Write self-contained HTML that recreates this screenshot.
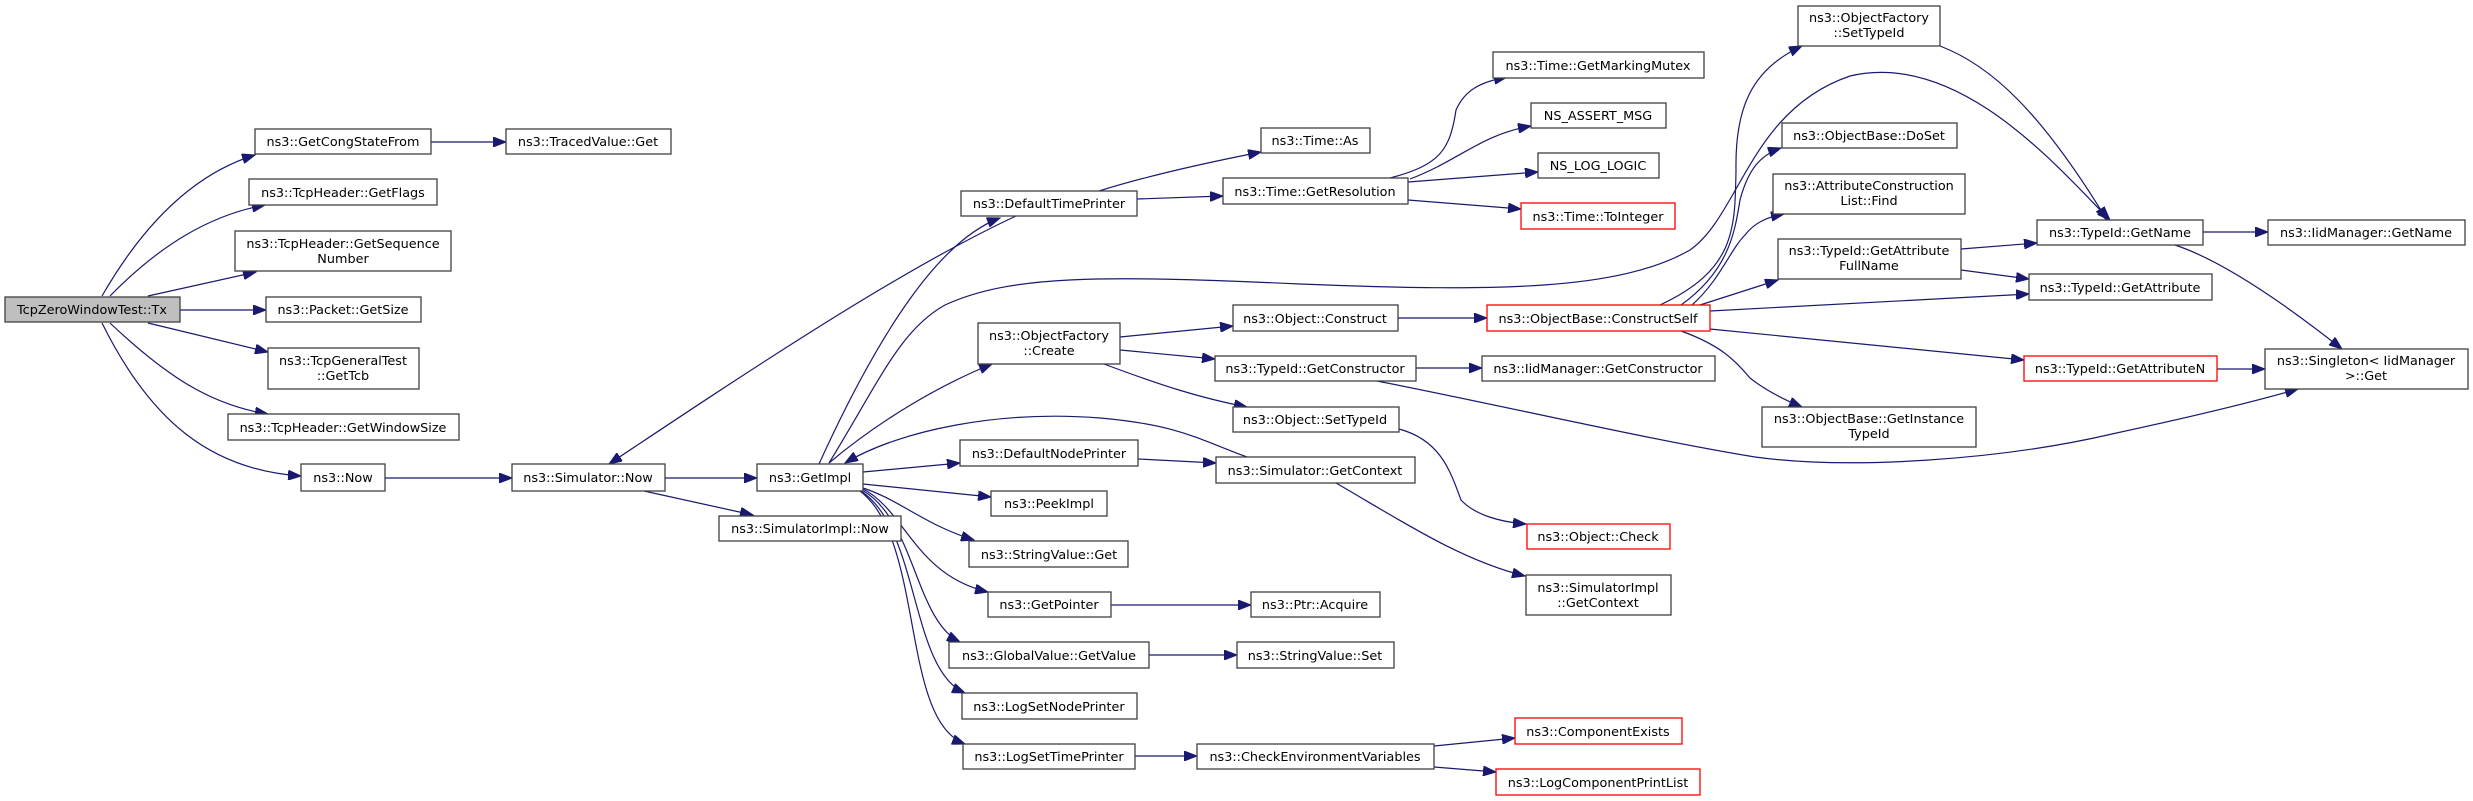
<!DOCTYPE html>
<html><head><meta charset="utf-8">
<style>
html,body{margin:0;padding:0;background:#fff;}
svg{display:block;}
text{font-family:"DejaVu Sans","Liberation Sans",sans-serif;font-size:12.8px;fill:#000;}
rect{fill:#fff;stroke:#404040;stroke-width:1.3;}
rect.r{stroke:#ff0000;}
rect.g{fill:#bfbfbf;}
path{fill:none;stroke:#191970;stroke-width:1.2;}
</style></head><body>
<svg width="2473" height="801" viewBox="0 0 2473 801" xmlns="http://www.w3.org/2000/svg">
<defs>
<marker id="a" markerWidth="14" markerHeight="10" refX="13" refY="5" orient="auto" markerUnits="userSpaceOnUse">
<path d="M0,0 L13,5 L0,10 Z" style="fill:#191970;stroke:#191970;stroke-width:1"/>
</marker>
</defs>
<g marker-end="url(#a)">
<path d="M102,296 C140,230 190,175 255,155"/>
<path d="M110,296 C160,245 210,215 265,205"/>
<path d="M148,296 L256,272"/>
<path d="M180,310 L266,310"/>
<path d="M148,323 L268,352"/>
<path d="M110,323 C165,375 210,405 268,414"/>
<path d="M102,323 C150,420 210,470 301,476"/>
<path d="M431,142 L506,142"/>
<path d="M385,478 L512,478"/>
<path d="M665,478 L757,478"/>
<path d="M644,491 L753,515"/>
<path d="M1016,216 C900,270 750,370 609,464"/>
<path d="M819,464 C880,330 940,240 1000,218"/>
<path d="M829,463 C880,380 900,330 945,305 C1010,275 1100,275 1300,284 C1500,292 1620,290 1690,250 C1740,215 1750,110 1850,76 C1960,50 2060,170 2110,220"/>
<path d="M829,463 C880,420 940,385 992,364"/>
<path d="M1247,457 C1200,440 1180,425 1100,418 C1000,410 900,430 845,463"/>
<path d="M863,472 L960,463"/>
<path d="M863,484 L991,497"/>
<path d="M863,488 C900,500 925,525 974,540"/>
<path d="M863,489 C905,510 915,575 988,592"/>
<path d="M862,490 C915,520 915,620 960,642"/>
<path d="M861,491 C920,530 910,670 965,693"/>
<path d="M860,491 C925,540 900,720 965,744"/>
<path d="M1099,191 C1150,175 1210,162 1261,152"/>
<path d="M1137,199 L1223,196"/>
<path d="M1390,178 C1440,165 1450,150 1456,110 C1465,90 1480,82 1507,77"/>
<path d="M1410,179 C1460,160 1480,135 1531,126"/>
<path d="M1408,182 L1538,172"/>
<path d="M1408,200 L1521,209"/>
<path d="M1120,337 L1233,326"/>
<path d="M1120,350 L1215,359"/>
<path d="M1104,364 C1160,385 1200,398 1247,407"/>
<path d="M1398,318 L1487,318"/>
<path d="M1416,368 L1482,368"/>
<path d="M1377,381 C1500,405 1650,440 1755,457 C1850,470 2000,460 2112,434 C2200,415 2260,400 2298,389"/>
<path d="M1138,459 L1216,463"/>
<path d="M1399,429 C1440,440 1450,470 1461,500 C1475,515 1500,522 1526,524"/>
<path d="M1336,483 C1400,520 1460,560 1525,576"/>
<path d="M1111,605 L1251,605"/>
<path d="M1149,655 L1237,655"/>
<path d="M1135,756 L1197,756"/>
<path d="M1434,746 L1515,738"/>
<path d="M1434,767 L1496,772"/>
<path d="M1660,305 C1735,270 1735,230 1736,170 C1735,110 1750,70 1802,46"/>
<path d="M1681,305 C1730,270 1735,230 1740,200 C1748,170 1760,155 1781,148"/>
<path d="M1692,305 C1720,280 1730,250 1745,235 C1755,222 1768,217 1784,214"/>
<path d="M1700,305 L1778,280"/>
<path d="M1710,311 L2029,294"/>
<path d="M1710,329 L2024,360"/>
<path d="M1681,331 C1720,345 1735,360 1750,378 C1765,390 1785,400 1802,407"/>
<path d="M1940,46 C1990,65 2040,110 2107,220"/>
<path d="M1961,249 L2037,243"/>
<path d="M1961,270 L2029,279"/>
<path d="M2203,232 L2268,232"/>
<path d="M2175,245 C2220,260 2280,300 2342,349"/>
<path d="M2217,369 L2265,369"/>
</g>
<g text-anchor="middle">
<rect class="g" x="5" y="297" width="175" height="25"/><text x="92" y="314">TcpZeroWindowTest::Tx</text>
<rect x="255" y="129" width="176" height="25"/><text x="343" y="146">ns3::GetCongStateFrom</text>
<rect x="506" y="129" width="165" height="25"/><text x="588" y="146">ns3::TracedValue::Get</text>
<rect x="249" y="179" width="188" height="26"/><text x="343" y="197">ns3::TcpHeader::GetFlags</text>
<rect x="235" y="231" width="216" height="40"/><text x="343" y="248">ns3::TcpHeader::GetSequence</text><text x="343" y="263">Number</text>
<rect x="266" y="297" width="155" height="25"/><text x="343" y="314">ns3::Packet::GetSize</text>
<rect x="268" y="348" width="151" height="41"/><text x="343" y="365">ns3::TcpGeneralTest</text><text x="343" y="380">::GetTcb</text>
<rect x="228" y="414" width="231" height="26"/><text x="343" y="432">ns3::TcpHeader::GetWindowSize</text>
<rect x="301" y="464" width="84" height="27"/><text x="343" y="482">ns3::Now</text>
<rect x="512" y="464" width="153" height="27"/><text x="588" y="482">ns3::Simulator::Now</text>
<rect x="757" y="464" width="106" height="27"/><text x="810" y="482">ns3::GetImpl</text>
<rect x="719" y="516" width="182" height="25"/><text x="810" y="533">ns3::SimulatorImpl::Now</text>
<rect x="1493" y="52" width="211" height="26"/><text x="1598" y="70">ns3::Time::GetMarkingMutex</text>
<rect x="1531" y="103" width="135" height="25"/><text x="1598" y="120">NS_ASSERT_MSG</text>
<rect x="1538" y="153" width="121" height="25"/><text x="1598" y="170">NS_LOG_LOGIC</text>
<rect class="r" x="1521" y="203" width="154" height="26"/><text x="1598" y="221">ns3::Time::ToInteger</text>
<rect x="1261" y="128" width="109" height="25"/><text x="1315" y="145">ns3::Time::As</text>
<rect x="1223" y="178" width="185" height="26"/><text x="1315" y="196">ns3::Time::GetResolution</text>
<rect x="961" y="191" width="176" height="25"/><text x="1049" y="208">ns3::DefaultTimePrinter</text>
<rect x="978" y="323" width="142" height="41"/><text x="1049" y="340">ns3::ObjectFactory</text><text x="1049" y="355">::Create</text>
<rect x="1233" y="305" width="165" height="26"/><text x="1315" y="323">ns3::Object::Construct</text>
<rect class="r" x="1487" y="305" width="223" height="26"/><text x="1598" y="323">ns3::ObjectBase::ConstructSelf</text>
<rect x="1215" y="356" width="201" height="25"/><text x="1315" y="373">ns3::TypeId::GetConstructor</text>
<rect x="1482" y="356" width="233" height="25"/><text x="1598" y="373">ns3::IidManager::GetConstructor</text>
<rect x="1233" y="407" width="166" height="25"/><text x="1315" y="424">ns3::Object::SetTypeId</text>
<rect x="960" y="440" width="178" height="26"/><text x="1049" y="458">ns3::DefaultNodePrinter</text>
<rect x="1216" y="457" width="199" height="26"/><text x="1315" y="475">ns3::Simulator::GetContext</text>
<rect x="991" y="491" width="116" height="25"/><text x="1049" y="508">ns3::PeekImpl</text>
<rect x="969" y="541" width="159" height="26"/><text x="1049" y="559">ns3::StringValue::Get</text>
<rect x="988" y="592" width="123" height="25"/><text x="1049" y="609">ns3::GetPointer</text>
<rect x="1251" y="592" width="129" height="25"/><text x="1315" y="609">ns3::Ptr::Acquire</text>
<rect x="949" y="642" width="200" height="26"/><text x="1049" y="660">ns3::GlobalValue::GetValue</text>
<rect x="1237" y="642" width="157" height="26"/><text x="1315" y="660">ns3::StringValue::Set</text>
<rect x="962" y="693" width="175" height="26"/><text x="1049" y="711">ns3::LogSetNodePrinter</text>
<rect x="963" y="744" width="172" height="25"/><text x="1049" y="761">ns3::LogSetTimePrinter</text>
<rect x="1197" y="744" width="237" height="25"/><text x="1315" y="761">ns3::CheckEnvironmentVariables</text>
<rect class="r" x="1515" y="718" width="167" height="26"/><text x="1598" y="736">ns3::ComponentExists</text>
<rect class="r" x="1496" y="769" width="204" height="26"/><text x="1598" y="787">ns3::LogComponentPrintList</text>
<rect class="r" x="1527" y="524" width="143" height="25"/><text x="1598" y="541">ns3::Object::Check</text>
<rect x="1526" y="575" width="145" height="40"/><text x="1598" y="592">ns3::SimulatorImpl</text><text x="1598" y="607">::GetContext</text>
<rect x="1798" y="6" width="142" height="40"/><text x="1869" y="22">ns3::ObjectFactory</text><text x="1869" y="37">::SetTypeId</text>
<rect x="1782" y="123" width="175" height="25"/><text x="1869" y="140">ns3::ObjectBase::DoSet</text>
<rect x="1773" y="174" width="192" height="40"/><text x="1869" y="190">ns3::AttributeConstruction</text><text x="1869" y="205">List::Find</text>
<rect x="1778" y="239" width="183" height="40"/><text x="1869" y="255">ns3::TypeId::GetAttribute</text><text x="1869" y="270">FullName</text>
<rect x="1762" y="407" width="214" height="40"/><text x="1869" y="423">ns3::ObjectBase::GetInstance</text><text x="1869" y="438">TypeId</text>
<rect x="2037" y="220" width="166" height="25"/><text x="2120" y="237">ns3::TypeId::GetName</text>
<rect x="2268" y="220" width="197" height="25"/><text x="2366" y="237">ns3::IidManager::GetName</text>
<rect x="2029" y="274" width="183" height="26"/><text x="2120" y="292">ns3::TypeId::GetAttribute</text>
<rect class="r" x="2024" y="356" width="193" height="25"/><text x="2120" y="373">ns3::TypeId::GetAttributeN</text>
<rect x="2265" y="349" width="203" height="40"/><text x="2366" y="365">ns3::Singleton&lt; IidManager</text><text x="2366" y="380">&gt;::Get</text>
</g>
</svg>
</body></html>
